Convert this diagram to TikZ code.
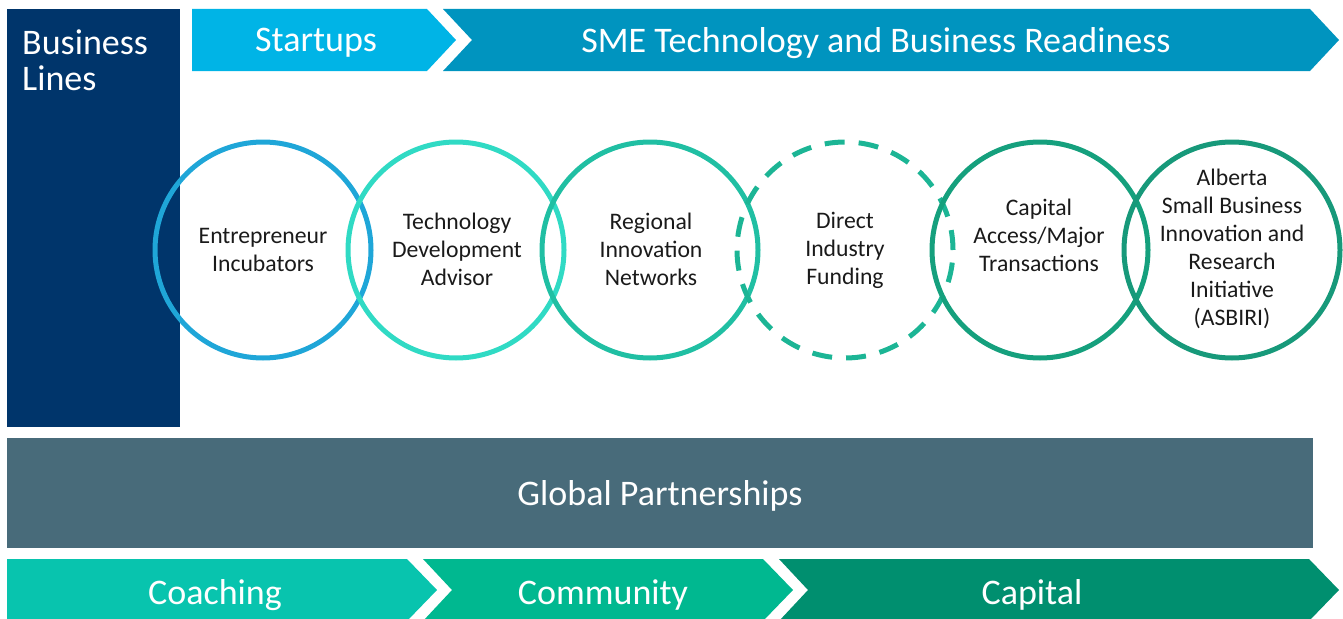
\documentclass[tikz,border=0pt]{standalone}
\usepackage{fontspec}
\setmainfont{Carlito}
\definecolor{bizblue}{HTML}{00356B}
\definecolor{startc}{HTML}{00B4E6}
\definecolor{smec}{HTML}{0094BF}
\definecolor{globc}{HTML}{486B7A}
\definecolor{coachc}{HTML}{08C4AE}
\definecolor{commc}{HTML}{00B890}
\definecolor{capc}{HTML}{008F6F}
\definecolor{c1}{HTML}{1FA6D8}
\definecolor{c2}{HTML}{30DAC4}
\definecolor{c3}{HTML}{20BFA3}
\definecolor{c4}{HTML}{1CB595}
\definecolor{c5}{HTML}{15A07D}
\definecolor{c6}{HTML}{17997A}
\definecolor{txt}{HTML}{1A1A1A}
\tikzset{
  bigtext/.style={text=white, font=\fontsize{36}{36}\selectfont, inner sep=0pt},
  ring/.style={circle, minimum size=216pt, inner sep=0pt, line width=5pt},
  ringtext/.style={text=txt, font=\fontsize{23.7}{28}\selectfont, align=center, inner sep=0pt}
}
\begin{document}
\begin{tikzpicture}[x=1pt,y=-1pt]
\useasboundingbox (0,0) rectangle (1343,618);
% Business lines
\fill[bizblue] (7,9) rectangle (180,427);
\node[bigtext, anchor=north west, align=left] (bl) at (22,30) {Business\\Lines};
% top chevrons
\fill[startc] (192,9) -- (427,9) -- (456,40) -- (427,71) -- (192,71) -- cycle;
\node[bigtext] (startups) at (316,43) {Startups};
\fill[smec] (443,9) -- (1310,9) -- (1339,40) -- (1310,71) -- (443,71) -- (472,40) -- cycle;
\node[bigtext] (sme) at (876,43) {SME Technology and Business Readiness};
% global partnerships
\fill[globc] (7,438) rectangle (1313,548);
\node[bigtext] (glob) at (660,496) {Global Partnerships};
% bottom chevrons
\fill[coachc] (7,559) -- (407,559) -- (437,590) -- (407,621) -- (7,621) -- cycle;
\node[bigtext] (coach) at (215,595) {Coaching};
\fill[commc] (423,559) -- (763,559) -- (793,590) -- (763,621) -- (423,621) -- (452,590) -- cycle;
\node[bigtext] (comm) at (603,595) {Community};
\fill[capc] (779,559) -- (1309,559) -- (1339,590) -- (1309,621) -- (779,621) -- (808,590) -- cycle;
\node[bigtext] (cap) at (1032,595) {Capital};
% rings
\node[ring, draw=c1] (r1) at (263,250) {};
\node[ring, draw=c2] (r2) at (456,250) {};
\node[ring, draw=c3] (r3) at (650,250) {};
\node[ring, draw=c4, dash pattern=on 20pt off 14pt] (r4) at (845,250) {};
\node[ring, draw=c5] (r5) at (1040,250) {};
\node[ring, draw=c6] (r6) at (1232,250) {};
% ring texts
\node[ringtext] (t1) at (263,250) {Entrepreneur\\Incubators};
\node[ringtext] (t2) at (457,249) {Technology\\Development\\Advisor};
\node[ringtext] (t3) at (651,249) {Regional\\Innovation\\Networks};
\node[ringtext] (t4) at (845,250) {Direct\\Industry\\Funding};
\node[ringtext] (t5) at (1039,235) {Capital\\Access/Major\\Transactions};
\node[ringtext] (t6) at (1232,249) {Alberta\\Small Business\\Innovation and\\Research\\Initiative\\(ASBIRI)};
\end{tikzpicture}
\end{document}
